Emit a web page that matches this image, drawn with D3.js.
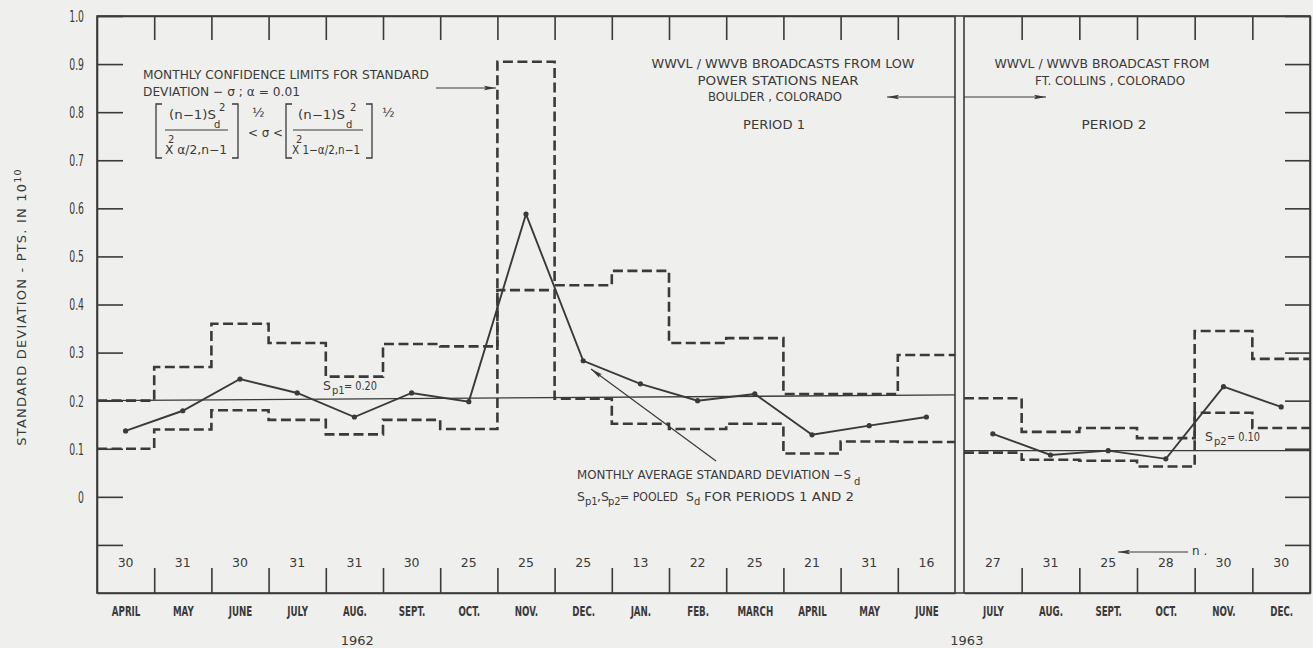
<!DOCTYPE html>
<html><head><meta charset="utf-8">
<script src="https://cdn.jsdelivr.net/npm/d3@7"></script>
<style>
html,body{margin:0;padding:0;background:#efefed;}
svg{display:block;}
</style></head><body>
<svg id="c" width="1313" height="648"></svg>
<script>
// ---------------- DATA ----------------
const months1 = ["APRIL","MAY","JUNE","JULY","AUG.","SEPT.","OCT.","NOV.","DEC.","JAN.","FEB.","MARCH","APRIL","MAY","JUNE"];
const months2 = ["JULY","AUG.","SEPT.","OCT.","NOV.","DEC."];
const n1 = [30,31,30,31,31,30,25,25,25,13,22,25,21,31,16];
const n2 = [27,31,25,28,30,30];
const mean1  = [0.137,0.179,0.245,0.216,0.166,0.216,0.198,0.588,0.283,0.235,0.200,0.214,0.129,0.148,0.166];
const upper1 = [0.200,0.270,0.360,0.320,0.250,0.318,0.313,0.905,0.440,0.470,0.320,0.330,0.214,0.214,0.295];
const lower1 = [0.100,0.140,0.180,0.160,0.130,0.160,0.141,0.430,0.204,0.152,0.141,0.152,0.090,0.115,0.114];
const mean2  = [0.131,0.087,0.096,0.079,0.229,0.187];
const upper2 = [0.205,0.135,0.143,0.122,0.345,0.287];
const lower2 = [0.092,0.077,0.075,0.063,0.175,0.143];
const pooled1 = [0.200,0.212];   // S_p1 line (start, end as drawn)
const pooled2 = [0.096,0.096];   // S_p2 line
const yTicks = [1.0,0.9,0.8,0.7,0.6,0.5,0.4,0.3,0.2,0.1,0,-0.1];
const yTickLabels = ["1.0","0.9","0.8","0.7","0.6","0.5","0.4","0.3","0.2","0.1","0",""];
const years = [{label:"1962", period:1, at:4.55},{label:"1963", period:2, at:0.05}];

// ---------------- SETUP ----------------
const ink = "#3a3a3a";
const svg = d3.select("#c");
svg.append("rect").attr("width",1313).attr("height",648).attr("fill","#efefed");

const defs = svg.append("defs");
defs.append("marker").attr("id","ah").attr("viewBox","0 0 12 6").attr("refX",12).attr("refY",3)
  .attr("markerWidth",12).attr("markerHeight",6).attr("markerUnits","userSpaceOnUse").attr("orient","auto")
  .append("path").attr("d","M0,0.8 L12,3 L0,5.2 L2,3 Z").attr("fill",ink);

const y  = d3.scaleLinear().domain([-0.2,1.0]).range([593,16]);
const x1 = d3.scaleLinear().domain([0,15]).range([97,955]);
const x2 = d3.scaleLinear().domain([0,6]).range([964,1310]);

const sans = "'DejaVu Sans','Liberation Sans',sans-serif";

function styleAxis(g){
  g.selectAll("path,line").attr("stroke",ink).attr("stroke-width",1.6);
  g.selectAll("text").attr("fill",ink);
}

// frame
svg.append("rect").attr("x",97).attr("y",16).attr("width",1310-97).attr("height",593-16)
  .attr("fill","none").attr("stroke",ink).attr("stroke-width",1.6);

// left axis (labels drawn condensed)
const sxY = 0.62;
svg.append("g").attr("transform","translate(97,0)")
  .call(d3.axisLeft(y).tickValues(yTicks).tickSizeInner(-26).tickSizeOuter(0).tickPadding(13)
    .tickFormat((d,i)=>yTickLabels[i]))
  .call(styleAxis)
  .call(g=>g.selectAll("text").attr("font-family",sans).attr("font-size",15)
    .attr("x",-13/sxY).attr("transform",`scale(${sxY},1)`).attr("dy","0.36em"));

// right axis
svg.append("g").attr("transform","translate(1310,0)")
  .call(d3.axisRight(y).tickValues(yTicks).tickSizeInner(-25).tickSizeOuter(0).tickFormat(""))
  .call(styleAxis);

// top ticks
const b1 = d3.range(1,15), b2 = d3.range(1,6);
svg.append("g").attr("transform","translate(0,16)")
  .call(d3.axisTop(x1).tickValues(b1).tickSizeInner(-24).tickSizeOuter(0).tickFormat("")).call(styleAxis);
svg.append("g").attr("transform","translate(0,16)")
  .call(d3.axisTop(x2).tickValues(b2).tickSizeInner(-24).tickSizeOuter(0).tickFormat("")).call(styleAxis);
// bottom ticks
svg.append("g").attr("transform","translate(0,593)")
  .call(d3.axisBottom(x1).tickValues(b1).tickSizeInner(-25).tickSizeOuter(0).tickFormat("")).call(styleAxis);
svg.append("g").attr("transform","translate(0,593)")
  .call(d3.axisBottom(x2).tickValues(b2).tickSizeInner(-25).tickSizeOuter(0).tickFormat("")).call(styleAxis);

// month labels (bold condensed lettering)
function monthAxis(xs, months){
  svg.append("g").attr("transform","translate(0,593)")
    .call(d3.axisBottom(xs).tickValues(months.map((m,i)=>i+0.5)).tickSize(0).tickPadding(13)
      .tickFormat((d,i)=>months[i]))
    .call(g=>g.select(".domain").remove())
    .call(g=>g.selectAll("text").attr("font-family",sans).attr("font-size",14.5).attr("font-weight","bold")
      .attr("fill",ink).attr("transform","scale(0.6,1)"));
}
monthAxis(x1, months1);
monthAxis(x2, months2);

// double dividing line
[x1(15), x2(0)].forEach(xx=>{
  svg.append("line").attr("x1",xx).attr("x2",xx).attr("y1",16).attr("y2",593)
    .attr("stroke",ink).attr("stroke-width",1.6);
});

// n values
function nRow(xs, ns){
  svg.append("g").selectAll("text").data(ns).join("text")
    .attr("x",(d,i)=>xs(i+0.5)).attr("y",567).attr("text-anchor","middle")
    .attr("font-family",sans).attr("font-size",12.5).attr("fill",ink).text(d=>d);
}
nRow(x1,n1); nRow(x2,n2);

// years
years.forEach(yr=>{
  const xs = yr.period===1 ? x1 : x2;
  svg.append("text").attr("x",xs(yr.at)).attr("y",645).attr("text-anchor","middle")
    .attr("font-family",sans).attr("font-size",13).attr("fill",ink).text(yr.label);
});

// step (confidence limit) lines
function stepLine(xs, vals){
  const pts = vals.map((v,i)=>[i,v]).concat([[vals.length, vals[vals.length-1]]]);
  svg.append("path").datum(pts)
    .attr("d", d3.line().x(d=>xs(d[0])).y(d=>y(d[1])).curve(d3.curveStepAfter))
    .attr("fill","none").attr("stroke",ink).attr("stroke-width",2.6)
    .attr("stroke-dasharray","10,4.5");
}
stepLine(x1, upper1); stepLine(x1, lower1);
stepLine(x2, upper2); stepLine(x2, lower2);

// pooled lines
function pooledLine(xs, pv, len){
  svg.append("path").datum([[0,pv[0]],[len,pv[1]]])
    .attr("d", d3.line().x(d=>xs(d[0])).y(d=>y(d[1])))
    .attr("fill","none").attr("stroke",ink).attr("stroke-width",1.4);
}
pooledLine(x1, pooled1, 15);
pooledLine(x2, pooled2, 6);

// mean lines
function meanLine(xs, vals){
  svg.append("path").datum(vals)
    .attr("d", d3.line().x((d,i)=>xs(i+0.5)).y(d=>y(d)))
    .attr("fill","none").attr("stroke",ink).attr("stroke-width",1.9);
  svg.append("g").selectAll("circle").data(vals).join("circle")
    .attr("cx",(d,i)=>xs(i+0.5)).attr("cy",d=>y(d)).attr("r",2.6).attr("fill",ink);
}
meanLine(x1, mean1);
meanLine(x2, mean2);

// ---------------- ANNOTATIONS ----------------
function txt(x, yb, s, opt={}){
  const t = svg.append("text").attr("x",x).attr("y",yb)
    .attr("font-family",opt.family||sans).attr("font-size",opt.size||12.5).attr("fill",ink)
    .attr("text-anchor",opt.anchor||"start");
  if(opt.len){ t.attr("textLength",opt.len).attr("lengthAdjust","spacingAndGlyphs"); }
  t.text(s);
  return t;
}
function arrow(xa,ya,xb,yb){
  svg.append("line").attr("x1",xa).attr("y1",ya).attr("x2",xb).attr("y2",yb)
    .attr("stroke",ink).attr("stroke-width",1.2).attr("marker-end","url(#ah)");
}

// top-left block
txt(143,79,"MONTHLY CONFIDENCE LIMITS FOR STANDARD",{len:286});
txt(143,96,"DEVIATION − σ ; α = 0.01",{len:157});
arrow(436,88,496,88);

// formula
function bracket(xv, xs, y0, y1){
  svg.append("path").attr("d",`M${xs},${y0} L${xv},${y0} L${xv},${y1} L${xs},${y1}`)
    .attr("fill","none").attr("stroke",ink).attr("stroke-width",1.3);
}
bracket(156,162,104,158); bracket(238,232,104,158);
bracket(286,292,104,158); bracket(372,366,104,158);
// left fraction
txt(169,119,"(n−1)S",{size:12,len:47});
txt(219,111,"2",{size:10});
txt(214,128,"d",{size:10});
svg.append("line").attr("x1",165).attr("x2",228).attr("y1",130).attr("y2",130).attr("stroke",ink).attr("stroke-width",1.1);
txt(168,143,"2",{size:10});
txt(165,154,"X α/2,n−1",{size:12,len:62});
txt(252,117,"½",{size:13});
txt(248,137,"< σ <",{size:12.5,len:35});
// right fraction
txt(298,119,"(n−1)S",{size:12,len:47});
txt(350,111,"2",{size:10});
txt(346,128,"d",{size:10});
svg.append("line").attr("x1",293).attr("x2",363).attr("y1",130).attr("y2",130).attr("stroke",ink).attr("stroke-width",1.1);
txt(296,143,"2",{size:10});
txt(292,154,"X 1−α/2,n−1",{size:12,len:68});
txt(382,117,"½",{size:13});

// period 1 block
txt(783,68,"WWVL / WWVB BROADCASTS FROM LOW",{anchor:"middle",len:263});
txt(778,85,"POWER STATIONS NEAR",{anchor:"middle",len:161});
txt(775,101,"BOULDER , COLORADO",{anchor:"middle",len:134});
txt(774,129,"PERIOD 1",{anchor:"middle",len:62});
arrow(955,97,887,97);

// period 2 block
txt(1102,68,"WWVL / WWVB BROADCAST FROM",{anchor:"middle",len:215});
txt(1110,85,"FT. COLLINS , COLORADO",{anchor:"middle",len:150});
txt(1114,129,"PERIOD 2",{anchor:"middle",len:65});
arrow(964,97,1046,97);

// pooled labels
txt(323,390,"S",{size:12.5});
txt(332,394,"p1",{size:10});
txt(344,390,"= 0.20",{size:12.5,len:33});
txt(1205,441,"S",{size:12.5});
txt(1214,445,"p2",{size:10});
txt(1227,441,"= 0.10",{size:12.5,len:33});

// bottom annotation
txt(577,479,"MONTHLY AVERAGE STANDARD DEVIATION −S",{size:11.4,len:274});
txt(854,485,"d",{size:10});
txt(577,501,"S",{size:12.5});
txt(585,505,"p1",{size:10});
txt(597,501,",S",{size:12.5});
txt(608,505,"p2",{size:10});
txt(620,501,"= POOLED",{len:58});
txt(686,501,"S",{size:12.5});
txt(694,505,"d",{size:10});
txt(704,501,"FOR PERIODS 1 AND 2",{len:150});
arrow(716,461,591,369);

// n arrow
arrow(1188,552,1118,552);
txt(1192,555,"n .",{size:12});

// y axis title
svg.append("text").attr("transform","translate(26,307) rotate(-90)")
  .attr("text-anchor","middle").attr("font-family",sans).attr("font-size",13).attr("fill",ink)
  .attr("letter-spacing",1.2)
  .call(t=>{
    t.append("tspan").text("STANDARD  DEVIATION  -  PTS.  IN  10");
    t.append("tspan").attr("dy",-5).attr("font-size",9.5).text("10");
  });
</script>
</body></html>
